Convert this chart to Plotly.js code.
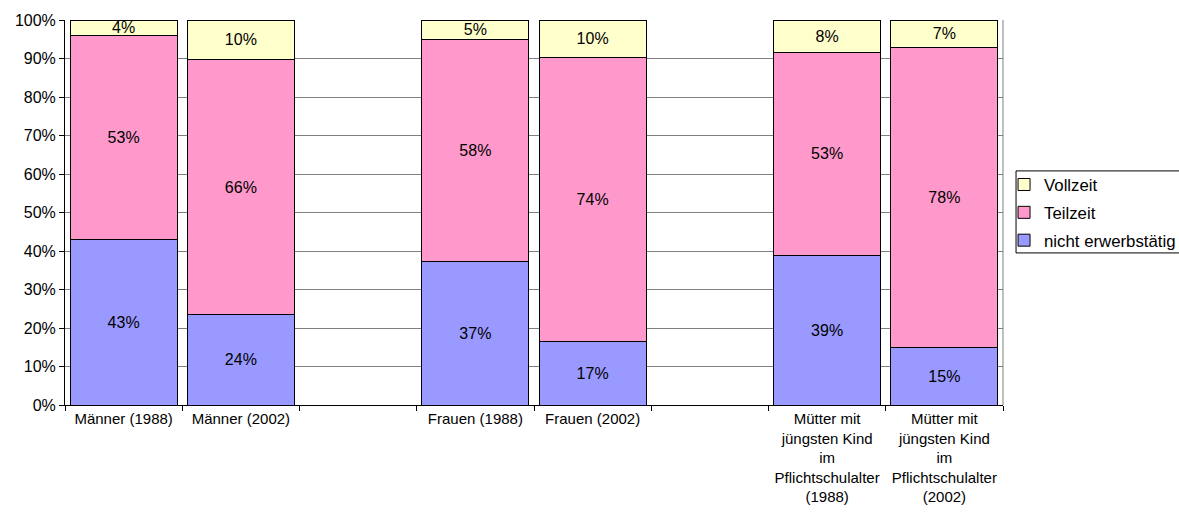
<!DOCTYPE html>
<html>
<head>
<meta charset="utf-8">
<script src="https://cdn.plot.ly/plotly-3.0.1.min.js"></script>
<style>html,body{margin:0;padding:0;background:#fff;}#chart{width:1179px;height:516px;}</style>
</head>
<body>
<div id="chart"></div>
<script>
const categories = [
  "Männer (1988)", "Männer (2002)", " ",
  "Frauen (1988)", "Frauen (2002)", "  ",
  "Mütter mit<br>jüngsten Kind<br>im<br>Pflichtschulalter<br>(1988)",
  "Mütter mit<br>jüngsten Kind<br>im<br>Pflichtschulalter<br>(2002)"
];
const nichtErwerbstaetig = [42.9, 23.5, null, 37.3, 16.6, null, 38.9, 15.0];
const teilzeit           = [53.1, 66.2, null, 57.6, 73.7, null, 52.6, 77.9];
const vollzeit           = [ 4.0, 10.3, null,  5.1,  9.7, null,  8.4,  7.1];
const yTickVals   = [0, 10, 20, 30, 40, 50, 60, 70, 80, 90, 100];
const yTickLabels = ["0%", "10%", "20%", "30%", "40%", "50%", "60%", "70%", "80%", "90%", "100%"];

function mk(name, y, color, group, rank) {
  return {
    type: 'bar', name: name, x: categories, y: y,
    legendgroup: group, legendrank: rank,
    marker: {color: color, line: {color: '#000', width: 1}},
    texttemplate: '%{y:.0f}%', textposition: 'inside', insidetextanchor: 'middle',
    constraintext: 'none',
    textfont: {family: 'Liberation Sans, Arial, sans-serif', size: 16, color: '#000'},
    hoverinfo: 'skip'
  };
}

const data = [
  mk('nicht erwerbstätig', nichtErwerbstaetig, '#9999FF', 'a', 3),
  mk('Teilzeit', teilzeit, '#FF99CC', 'b', 2),
  mk('Vollzeit', vollzeit, '#FFFFCC', 'c', 1)
];

const layout = {
  width: 1179, height: 516,
  margin: {l: 65, r: 176, t: 20, b: 111, autoexpand: false},
  barmode: 'stack', bargap: 0.087,
  paper_bgcolor: '#fff', plot_bgcolor: '#fff',
  font: {family: 'Liberation Sans, Arial, sans-serif', size: 16, color: '#000'},
  xaxis: {
    type: 'category', categoryorder: 'array', categoryarray: categories,
    tickson: 'boundaries', ticks: 'outside', ticklen: 5, tickcolor: '#000',
    showline: true, linecolor: '#000', linewidth: 1,
    showgrid: false, tickangle: 0, automargin: false,
    tickfont: {size: 15}
  },
  yaxis: {
    range: [0, 100], tickmode: 'array', tickvals: yTickVals, ticktext: yTickLabels,
    ticks: 'outside', ticklen: 5, tickcolor: '#000',
    showline: true, linecolor: '#000', linewidth: 1,
    showgrid: true, gridcolor: '#808080', gridwidth: 1, automargin: false,
    zeroline: false, tickfont: {size: 16}
  },
  shapes: [
    {type: 'line', xref: 'paper', yref: 'paper', x0: 1, x1: 1, y0: 0, y1: 1,
     line: {color: '#808080', width: 1}},
    {type: 'rect', xref: 'paper', yref: 'paper', x0: 1.0139, x1: 1.2, y0: 0.395, y1: 0.608,
     line: {color: '#000', width: 1}, fillcolor: 'rgba(0,0,0,0)', layer: 'above'}
  ],
  legend: {
    x: 1.0011, xanchor: 'left', y: 0.618, yanchor: 'top',
    traceorder: 'grouped', tracegroupgap: 3,
    borderwidth: 0, bgcolor: 'rgba(0,0,0,0)',
    font: {size: 16.8}, itemwidth: 30
  },
  showlegend: true
};

Plotly.newPlot('chart', data, layout, {displayModeBar: false, staticPlot: true});
</script>
</body>
</html>
